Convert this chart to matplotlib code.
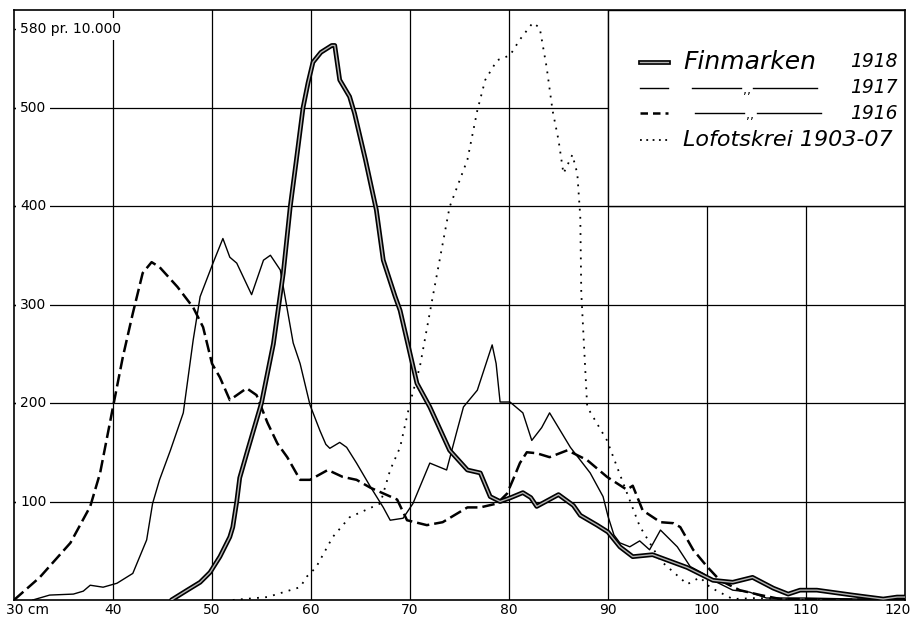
import matplotlib
matplotlib.use('Agg')
import matplotlib.pyplot as plt
from matplotlib.patches import Rectangle

# lengths in cm, values per 10.000
fin1918_x = [45.9, 47.5, 48.8, 49.8, 50.8, 51.8, 52.1, 52.5, 52.8, 53.6, 55.0, 56.2, 57.2, 57.9, 58.5,
             59.2, 59.7, 60.2, 61.0, 62.1, 62.4, 62.9, 63.9, 64.4, 65.5, 66.6, 67.3, 68.5, 69.0, 70.7,
             72.0, 74.0, 75.8, 77.1, 78.1, 79.1, 80.2, 81.4, 82.2, 82.8, 85.0, 86.5, 87.2, 88.9, 90.0,
             91.2, 92.5, 94.5, 98.0, 100.6, 102.6, 104.6, 106.7, 108.2, 109.4, 111.1, 114.7, 117.8, 119.2, 120]
fin1918_y = [0, 10, 18, 28, 44, 64, 74, 100, 124, 152, 200, 260, 332, 399, 445,
             500, 525, 546, 556, 563, 563, 528, 511, 494, 447, 396, 345, 308, 294, 220,
             196, 152, 132, 129, 105, 100, 104, 109, 104, 95, 107, 96, 86, 76, 69,
             54, 44, 46, 33, 20, 18, 23, 12, 6, 10, 10, 5, 1, 3, 3]

fin1917_x = [31.9, 33.6, 36.0, 37.0, 37.7, 39.0, 40.4, 42.0, 43.4, 44.0, 44.7, 45.8, 47.1, 48.1, 48.8,
             50.1, 51.1, 51.8, 52.5, 54.0, 55.2, 55.9, 56.9, 58.2, 58.9, 59.9, 60.9, 61.5, 61.9, 62.9,
             63.6, 64.6, 66.0, 67.3, 68.0, 69.3, 70.3, 72.0, 73.7, 74.7, 75.4, 76.8, 78.3, 78.7, 79.1,
             80.1, 81.4, 82.3, 83.3, 84.1, 86.2, 88.2, 89.5, 90.0, 90.6, 91.2, 92.2, 93.2, 94.2, 95.3,
             97.0, 98.3, 99.6, 100.6, 102.6, 104.3, 106.0, 110.0, 115.0, 120.0]
fin1917_y = [0, 5, 6, 9, 15, 13, 17, 27, 61, 98, 122, 152, 190, 264, 308,
             342, 367, 348, 342, 310, 345, 350, 335, 261, 240, 198, 172, 158, 154, 160,
             155, 139, 115, 94, 81, 83, 98, 139, 132, 170, 196, 213, 259, 240, 201,
             201, 190, 162, 175, 190, 155, 129, 105, 85, 66, 58, 54, 60, 51, 71,
             54, 34, 27, 20, 10, 8, 2, 2, 1, 1]

fin1916_x = [30.0, 32.6, 35.7, 37.7, 38.7, 40.0, 41.0, 42.0, 43.0, 43.9, 44.7, 46.5, 48.1, 49.1, 50.0,
             50.8, 51.8, 53.5, 54.5, 55.6, 56.6, 57.6, 58.9, 59.9, 61.7, 63.2, 64.6, 66.0, 68.7, 69.7,
             71.7, 73.3, 75.8, 77.1, 78.8, 79.8, 80.4, 81.1, 81.8, 82.8, 84.1, 85.9, 87.9, 89.9, 91.9,
             92.5, 93.5, 95.3, 96.6, 97.3, 98.6, 100.0, 101.3, 103.3, 105.4, 107.4, 120.0]
fin1916_y = [0, 23, 58, 95, 129, 196, 247, 291, 332, 343, 338, 318, 297, 277, 240,
             226, 203, 215, 208, 180, 159, 145, 122, 122, 132, 125, 122, 114, 102, 81,
             76, 79, 94, 94, 98, 108, 122, 139, 150, 149, 145, 152, 142, 125, 112,
             116, 91, 79, 78, 74, 51, 34, 20, 10, 5, 1, 0]

lofot_x = [52.1, 55.6, 58.9, 59.6, 60.5, 62.2, 63.9, 67.0, 68.0, 69.0, 70.0, 71.0, 72.3, 74.0, 75.8,
           76.8, 77.6, 78.8, 80.1, 81.1, 82.4, 83.1, 83.8, 84.4, 85.0, 85.5, 86.4, 86.9, 87.2, 87.3,
           87.9, 89.9, 91.9, 93.2, 95.3, 98.0, 99.3, 100.3, 102.6, 105.0, 110.0, 120.0]
lofot_y = [0, 3, 13, 24, 33, 64, 84, 98, 132, 155, 200, 237, 308, 399, 447,
           497, 528, 548, 553, 569, 586, 581, 541, 497, 467, 433, 452, 433, 389, 312,
           196, 162, 109, 75, 40, 16, 23, 13, 1, 2, 0, 0]

y_labels = [100, 200, 300, 400, 500]
x_labels = [40, 50, 60, 70, 80, 90, 100, 110]

fig = plt.figure(figsize=(9.12, 6.19), dpi=100)
ax = fig.add_axes([14/912, 19/619, 891/912, 590/619])
ax.set_xlim(30, 120)
ax.set_ylim(0, 599)

ax.set_xticks(range(40, 111, 10))
ax.set_yticks(y_labels)
ax.set_yticks([580], minor=True)
ax.grid(True, color='black', lw=0.9)
ax.tick_params(axis='x', length=0, labelbottom=False)
ax.tick_params(axis='y', which='both', direction='in', length=5, width=1, labelleft=False)
for s in ax.spines.values():
    s.set_linewidth(1.2)

# white legend field, covers the grid
ax.add_patch(Rectangle((90, 400), 30, 199, fc='white', ec='black', lw=1.0, zorder=2))

# curves
ax.plot(fin1918_x, fin1918_y, color='black', lw=3.4, solid_capstyle='round', zorder=3)
ax.plot(fin1918_x, fin1918_y, color='#b4b4b4', lw=1.0, zorder=3.1)
ax.plot(fin1917_x, fin1917_y, color='black', lw=1.0, zorder=3)
ax.plot(fin1916_x, fin1916_y, color='black', lw=1.8, ls=(0, (5, 2)), zorder=3)
ax.plot(lofot_x, lofot_y, color='black', lw=1.3, ls=(0, (1, 3.5)), zorder=3)

# axis labels inside the frame
wb = dict(fc='white', ec='none', pad=3)
for v in y_labels:
    ax.text(30.6, v, str(v), ha='left', va='center', fontsize=10, bbox=wb, zorder=4)
ax.text(30.6, 580, '580 pr. 10.000', ha='left', va='center', fontsize=10, bbox=wb, zorder=4)
ax.text(31.4, -10, '30 cm', ha='center', va='center', fontsize=10, clip_on=False)
for v in x_labels:
    ax.text(v, -10, str(v), ha='center', va='center', fontsize=10, clip_on=False)
ax.text(119.3, -10, '120', ha='center', va='center', fontsize=10, clip_on=False)

# legend
T = ax.transAxes
rows = [0.912, 0.868, 0.825, 0.780]
sx = [0.7026, 0.734]
ax.plot(sx, [rows[0]] * 2, transform=T, color='black', lw=3.4, zorder=5)
ax.plot(sx, [rows[0]] * 2, transform=T, color='#b4b4b4', lw=1.0, zorder=5.1)
ax.plot(sx, [rows[1]] * 2, transform=T, color='black', lw=1.0, zorder=5)
ax.plot(sx, [rows[2]] * 2, transform=T, color='black', lw=1.8, ls=(0, (3, 2)), zorder=5)
ax.plot(sx, [rows[3]] * 2, transform=T, color='black', lw=1.3, ls=(0, (1, 2.5)), zorder=5)

ax.text(0.751, rows[0], 'Finmarken', transform=T, style='italic', fontsize=18, va='center', zorder=5)
ax.text(0.938, rows[0], '1918', transform=T, style='italic', fontsize=13.5, va='center', zorder=5)
for r, yr, a, b in [(rows[1], '1917', 0.761, 0.829), (rows[2], '1916', 0.764, 0.834)]:
    ax.plot([a, a + 0.055], [r, r], transform=T, color='black', lw=1.0, zorder=5)
    ax.plot([b, b + 0.072], [r, r], transform=T, color='black', lw=1.0, zorder=5)
    ax.text((a + 0.055 + b) / 2, r - 0.004, ',,', transform=T, ha='center', va='center', fontsize=9, zorder=5)
    ax.text(0.938, r, yr, transform=T, style='italic', fontsize=13.5, va='center', zorder=5)
ax.text(0.751, rows[3], 'Lofotskrei 1903-07', transform=T, style='italic', fontsize=16, va='center', zorder=5)

fig.savefig('out.png', dpi=100)
